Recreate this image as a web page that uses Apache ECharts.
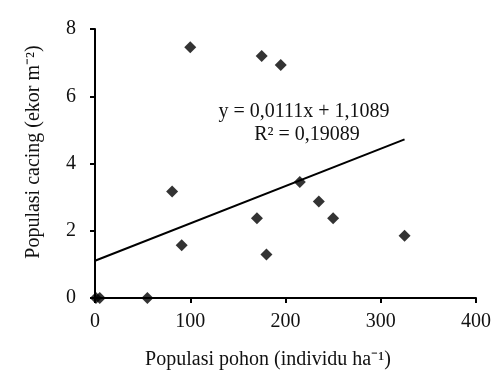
<!DOCTYPE html>
<html>
<head>
<meta charset="utf-8">
<style>html,body{margin:0;padding:0;background:#fff}#c{width:494px;height:378px}</style>
<script src="https://cdn.jsdelivr.net/npm/echarts@6/dist/echarts.min.js"></script>
</head>
<body>
<div id="c"></div>
<script>
var treePop = [1, 5, 55, 81, 91, 100, 170, 175, 180, 195, 215, 235, 250, 325];
var wormPop = [0, 0, 0, 3.17, 1.57, 7.46, 2.37, 7.2, 1.29, 6.93, 3.45, 2.87, 2.37, 1.85];
var slope = 0.0111, intercept = 1.1089;
var trendX = [0, 325];
var xTicks = [0, 100, 200, 300, 400];
var yTicks = [0, 2, 4, 6, 8];
var xTitle = 'Populasi pohon (individu ha⁻¹)';
var yTitle = 'Populasi cacing (ekor m⁻²)';
var eqText = 'y = 0,0111x + 1,1089';
var r2Text = 'R² = 0,19089';

var pts = treePop.map(function (x, i) { return [x, wormPop[i]]; });
var trend = trendX.map(function (x) { return [x, slope * x + intercept]; });
var font = '"Liberation Serif", "Times New Roman", serif';

var chart = echarts.init(document.getElementById('c'), null, {renderer: 'canvas'});
chart.setOption({
  animation: false,
  backgroundColor: '#fff',
  grid: {left: 95, right: 16, top: 29, bottom: 80, containLabel: false},
  xAxis: {
    type: 'value', min: xTicks[0], max: xTicks[xTicks.length - 1], interval: 100,
    axisLine: {show: true, onZero: false, lineStyle: {color: '#000', width: 2}},
    axisTick: {show: true, length: 5, lineStyle: {color: '#000', width: 2}},
    axisLabel: {fontFamily: font, fontSize: 20, color: '#111', margin: 14},
    splitLine: {show: false}
  },
  yAxis: {
    type: 'value', min: yTicks[0], max: yTicks[yTicks.length - 1], interval: 2,
    axisLine: {show: true, onZero: false, lineStyle: {color: '#000', width: 2}},
    axisTick: {show: true, length: 5, lineStyle: {color: '#000', width: 2}},
    axisLabel: {fontFamily: font, fontSize: 20, color: '#111', margin: 19},
    splitLine: {show: false}
  },
  series: [
    {
      type: 'line', data: trend, symbol: 'none', z: 1,
      lineStyle: {color: '#000', width: 2}
    },
    {
      type: 'scatter', data: pts, symbol: 'diamond', symbolSize: 12, z: 3,
      itemStyle: {color: '#000'}
    }
  ],
  graphic: [
    {type: 'text', x: 304, y: 112, style: {text: eqText, font: '20px ' + font, fill: '#111', align: 'center', verticalAlign: 'middle'}},
    {type: 'text', x: 307, y: 135, style: {text: r2Text, font: '20px ' + font, fill: '#111', align: 'center', verticalAlign: 'middle'}},
    {type: 'text', x: 268, y: 360, style: {text: xTitle, font: '20px ' + font, fill: '#111', align: 'center', verticalAlign: 'middle'}},
    {type: 'text', x: 34, y: 152, rotation: Math.PI / 2, style: {text: yTitle, font: '20px ' + font, fill: '#111', align: 'center', verticalAlign: 'middle'}}
  ]
});
</script>
</body>
</html>
